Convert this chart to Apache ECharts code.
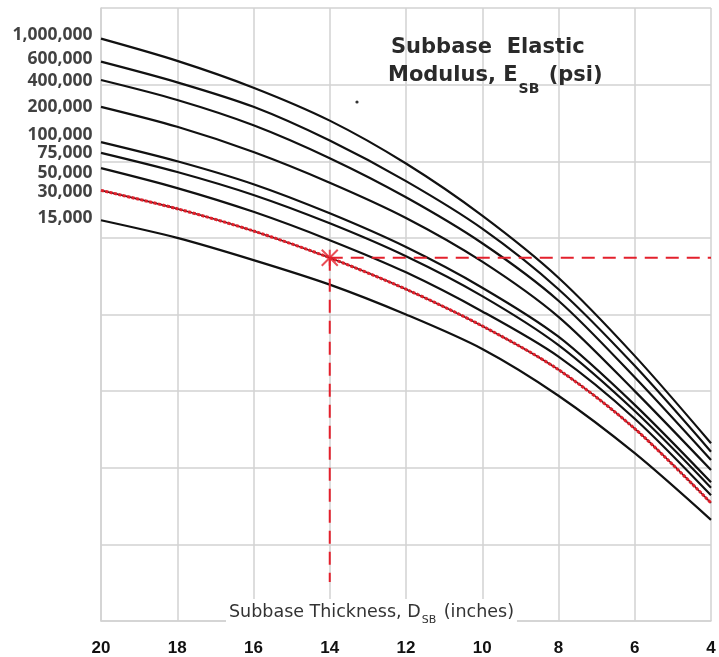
<!DOCTYPE html>
<html>
<head>
<meta charset="utf-8">
<script src="https://cdn.jsdelivr.net/npm/echarts@6/dist/echarts.min.js"></script>
<style>
html,body{margin:0;padding:0;background:#fff;}
#c{width:719px;height:657px;}
</style>
</head>
<body>
<div id="c"></div>
<script>
// ---- data ----
const thickness = [20, 18, 16, 14, 12, 10, 8, 6, 4];
const moduli = ['1,000,000', '600,000', '400,000', '200,000', '100,000', '75,000', '50,000', '30,000', '15,000'];
const e1000000 = [7.60, 7.31, 6.96, 6.53, 5.97, 5.29, 4.48, 3.46, 2.32];
const e600000  = [7.30, 7.03, 6.71, 6.27, 5.74, 5.12, 4.33, 3.33, 2.21];
const e400000  = [7.06, 6.80, 6.47, 6.04, 5.53, 4.93, 4.18, 3.18, 2.10];
const e200000  = [6.71, 6.45, 6.12, 5.72, 5.26, 4.69, 3.97, 3.00, 1.97];
const e100000  = [6.25, 6.00, 5.70, 5.32, 4.88, 4.35, 3.71, 2.82, 1.81];
const e75000   = [6.11, 5.86, 5.56, 5.19, 4.76, 4.24, 3.60, 2.74, 1.74];
const e50000   = [5.91, 5.65, 5.34, 4.97, 4.55, 4.04, 3.45, 2.64, 1.64];
const e30000   = [5.62, 5.38, 5.09, 4.74, 4.33, 3.85, 3.28, 2.51, 1.54];
const e15000   = [5.23, 5.00, 4.71, 4.39, 4.00, 3.55, 2.94, 2.19, 1.32];
const curves = [e1000000, e600000, e400000, e200000, e100000, e75000, e50000, e30000, e15000];
const xTicks = [20, 18, 16, 14, 12, 10, 8, 6, 4];
const exampleThickness = 14;
const exampleValue = 4.74;
const exampleLow = 0.51;
// ---- layout ----
const labelDy = [-4, -3, 1, 0, -7, 0, 5, 2, -2];
const RED = '#e3202c';
const GRID = '#d2d2d2';

const series = [];
curves.forEach((vals, i) => {
  const highlighted = moduli[i] === '30,000';
  series.push({
    type: 'line', data: thickness.map((t, j) => [t, vals[j]]),
    smooth: 0.3, symbol: 'none',
    lineStyle: { color: highlighted ? '#5a1014' : '#111', width: highlighted ? 1.6 : 2.2 }, z: 3, silent: true
  });
  if (highlighted) {
    series.push({
      type: 'line', data: thickness.map((t, j) => [t, vals[j]]),
      smooth: 0.3, symbol: 'none',
      lineStyle: { color: RED, width: 3, type: [3, 1.5] }, z: 4, silent: true
    });
  }
});
// curve name labels at the left end of each curve
series.push({
  type: 'scatter', symbol: 'circle', symbolSize: 1, z: 7, silent: true,
  itemStyle: { color: 'rgba(0,0,0,0)' },
  data: curves.map((vals, i) => ({
    value: [thickness[0], vals[0]],
    label: {
      show: true, position: 'left', distance: 8, offset: [0, labelDy[i]],
      formatter: moduli[i],
      fontFamily: 'Open Sans', fontWeight: 700, fontSize: 17.5, color: '#111'
    }
  }))
});
series.push({
  type: 'line', data: [[exampleThickness, exampleValue], [xTicks[xTicks.length - 1], exampleValue]],
  symbol: 'none', lineStyle: { color: RED, width: 2, type: [13, 8] }, z: 5, silent: true
});
series.push({
  type: 'line', data: [[exampleThickness, exampleValue], [exampleThickness, exampleLow]],
  symbol: 'none', lineStyle: { color: RED, width: 2, type: [13, 8] }, z: 5, silent: true
});
series.push({
  type: 'scatter', data: [[exampleThickness, exampleValue]],
  symbol: 'path://M0,0L10,10M10,0L0,10M5,0L5,10', symbolSize: 16,
  itemStyle: { color: 'none', borderColor: RED, borderWidth: 2 }, z: 6, silent: true
});

const chart = echarts.init(document.getElementById('c'), null, { renderer: 'canvas' });
chart.setOption({
  animation: false,
  backgroundColor: '#fff',
  grid: { left: 101, right: 8, top: 8, bottom: 36, containLabel: false },
  xAxis: {
    type: 'value', min: 4, max: 20, interval: 2, inverse: true,
    axisLine: { show: true, lineStyle: { color: GRID, width: 1.5 } },
    axisTick: { show: false },
    splitLine: { show: true, lineStyle: { color: GRID, width: 1.5 } },
    axisLabel: {
      margin: 19, fontFamily: 'Liberation Sans', fontWeight: 'bold', fontSize: 17, color: '#111',
      formatter: v => String(v)
    }
  },
  yAxis: {
    type: 'value', min: 0, max: 8, interval: 1,
    axisLine: { show: true, lineStyle: { color: GRID, width: 1.5 } },
    axisTick: { show: false },
    axisLabel: { show: false },
    splitLine: { show: true, lineStyle: { color: GRID, width: 1.5 } }
  },
  series: series,
  graphic: [
    {
      type: 'text', left: 391, top: 37, z: 10,
      style: { text: 'Subbase  Elastic', fontFamily: 'DejaVu Sans', fontWeight: 'bold', fontSize: 21, fill: '#2a2a2a' }
    },
    {
      type: 'text', left: 388, top: 65, z: 10,
      style: {
        text: '{m|Modulus, E}{s|SB}{m| (psi)}',
        rich: {
          m: { fontFamily: 'DejaVu Sans', fontWeight: 'bold', fontSize: 21, fill: '#2a2a2a', lineHeight: 42, verticalAlign: 'middle' },
          s: { fontFamily: 'DejaVu Sans', fontWeight: 'bold', fontSize: 14, fill: '#2a2a2a', lineHeight: 42, verticalAlign: 'bottom', padding: [0, 2, 0, 1] }
        }
      }
    },
    {
      type: 'circle', shape: { cx: 357, cy: 102, r: 1.6 }, style: { fill: '#333' }, z: 10
    },
    {
      type: 'text', left: 226, top: 599, z: 10,
      style: {
        text: '{m|Subbase Thickness, D}{s|SB}{m| (inches)}',
        backgroundColor: '#fff', padding: [0, 3, 0, 3],
        rich: {
          m: { fontFamily: 'DejaVu Sans', fontSize: 17.5, fill: '#333', lineHeight: 26, verticalAlign: 'middle' },
          s: { fontFamily: 'DejaVu Sans', fontSize: 11, fill: '#333', lineHeight: 27, verticalAlign: 'bottom', padding: [0, 2, 0, 1] }
        }
      }
    }
  ]
});
</script>
</body>
</html>
